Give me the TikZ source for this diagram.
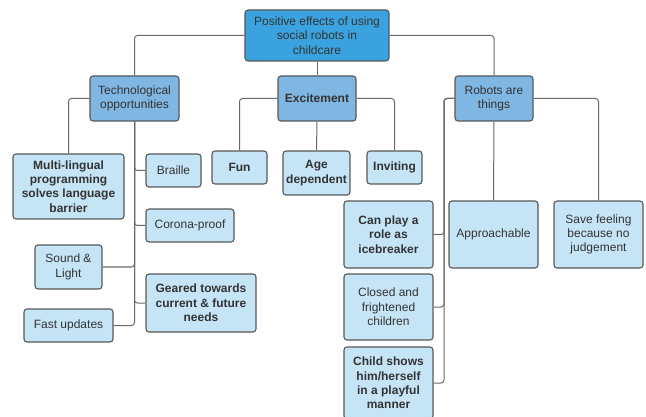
\documentclass[tikz,border=0pt]{standalone}
\usepackage{fontspec}
\setmainfont{Liberation Sans}
\definecolor{rootblue}{RGB}{58,163,223}
\definecolor{midblue}{RGB}{127,182,226}
\definecolor{leafblue}{RGB}{197,229,247}
\definecolor{boxgray}{RGB}{88,88,88}
\definecolor{linegray}{RGB}{105,105,105}
\definecolor{textgray}{RGB}{51,51,51}

\begin{document}
\begin{tikzpicture}[
        x=1pt, y=-1pt,
        box/.style={draw=boxgray, line width=1.1pt, rounded corners=3pt, align=center,
          inner sep=0pt, text=textgray, font=\fontsize{12}{14.3}\selectfont},
        bold/.style={font=\fontsize{12}{14.3}\selectfont\bfseries},
        rootbox/.style={box, fill=rootblue},
        midbox/.style={box, fill=midblue},
        leafbox/.style={box, fill=leafblue},
        link/.style={draw=linegray, line width=1pt, rounded corners=3pt}]

      \useasboundingbox (0,0) rectangle (646,417);

      \node[rootbox, minimum width=144, minimum height=51] (root) at (317,35.5) {Positive effects of using\\social robots in\\childcare};

      \node[midbox, minimum width=89, minimum height=45] (tech) at (134.5,98.5) {Technological\\opportunities};
      \node[midbox, bold, minimum width=78, minimum height=45] (excite) at (317,98.5) {Excitement};
      \node[midbox, minimum width=78, minimum height=45] (robots) at (494,98.5) {Robots are\\things};

      \node[leafbox, bold, minimum width=111, minimum height=65] (multi) at (68.5,186.5) {Multi-lingual\\programming\\solves language\\barrier};
      \node[leafbox, minimum width=55, minimum height=33] (braille) at (173.5,170.5) {Braille};
      \node[leafbox, minimum width=88, minimum height=33] (corona) at (190,225.5) {Corona-proof};
      \node[leafbox, minimum width=67, minimum height=44] (sound) at (68.5,267) {Sound \&\\Light};
      \node[leafbox, bold, minimum width=110, minimum height=58] (geared) at (201,303) {Geared towards\\current \& future\\needs};
      \node[leafbox, minimum width=89, minimum height=33] (fast) at (68.5,325.5) {Fast updates};

      \node[leafbox, bold, minimum width=55, minimum height=33] (fun) at (239.5,167.5) {Fun};
      \node[leafbox, bold, minimum width=67, minimum height=44] (age) at (316.5,173) {Age\\dependent};
      \node[leafbox, bold, minimum width=55, minimum height=33] (inviting) at (394.5,167.5) {Inviting};

      \node[leafbox, bold, minimum width=89, minimum height=67] (ice) at (388.5,234.5) {Can play a\\role as\\icebreaker};
      \node[leafbox, minimum width=89, minimum height=66] (closed) at (388.5,307) {Closed and\\frightened\\children};
      \node[leafbox, bold, minimum width=89, minimum height=72] (child) at (388.5,383) {Child shows\\him/herself\\in a playful\\manner};
      \node[leafbox, minimum width=89, minimum height=67] (approach) at (493.5,234.5) {Approachable};
      \node[leafbox, minimum width=89, minimum height=67] (save) at (598.5,234.5) {Save feeling\\because no\\judgement};

      \coordinate (rspine) at (444,98.5);

      \draw[link] (root.west) -| (tech.north);
      \draw[link] (root.south) -- (excite.north);
      \draw[link] (root.east) -| (robots.north);

      \draw[link] (tech.west) -| (multi.north);
      \foreach \t in {braille, corona, geared}
        \draw[link] (tech.south) |- (\t.west);
      \foreach \t in {sound, fast}
        \draw[link] (tech.south) |- (\t.east);

      \draw[link] (excite.west) -| (fun.north);
      \draw[link] (excite.south) -- (age.north);
      \draw[link] (excite.east) -| (inviting.north);

      \foreach \t in {ice, closed, child}
        \draw[link] (robots.west) -- (rspine) |- (\t.east);
      \draw[link] (robots.south) -- (approach.north);
      \draw[link] (robots.east) -| (save.north);

    \end{tikzpicture}
\end{document}
